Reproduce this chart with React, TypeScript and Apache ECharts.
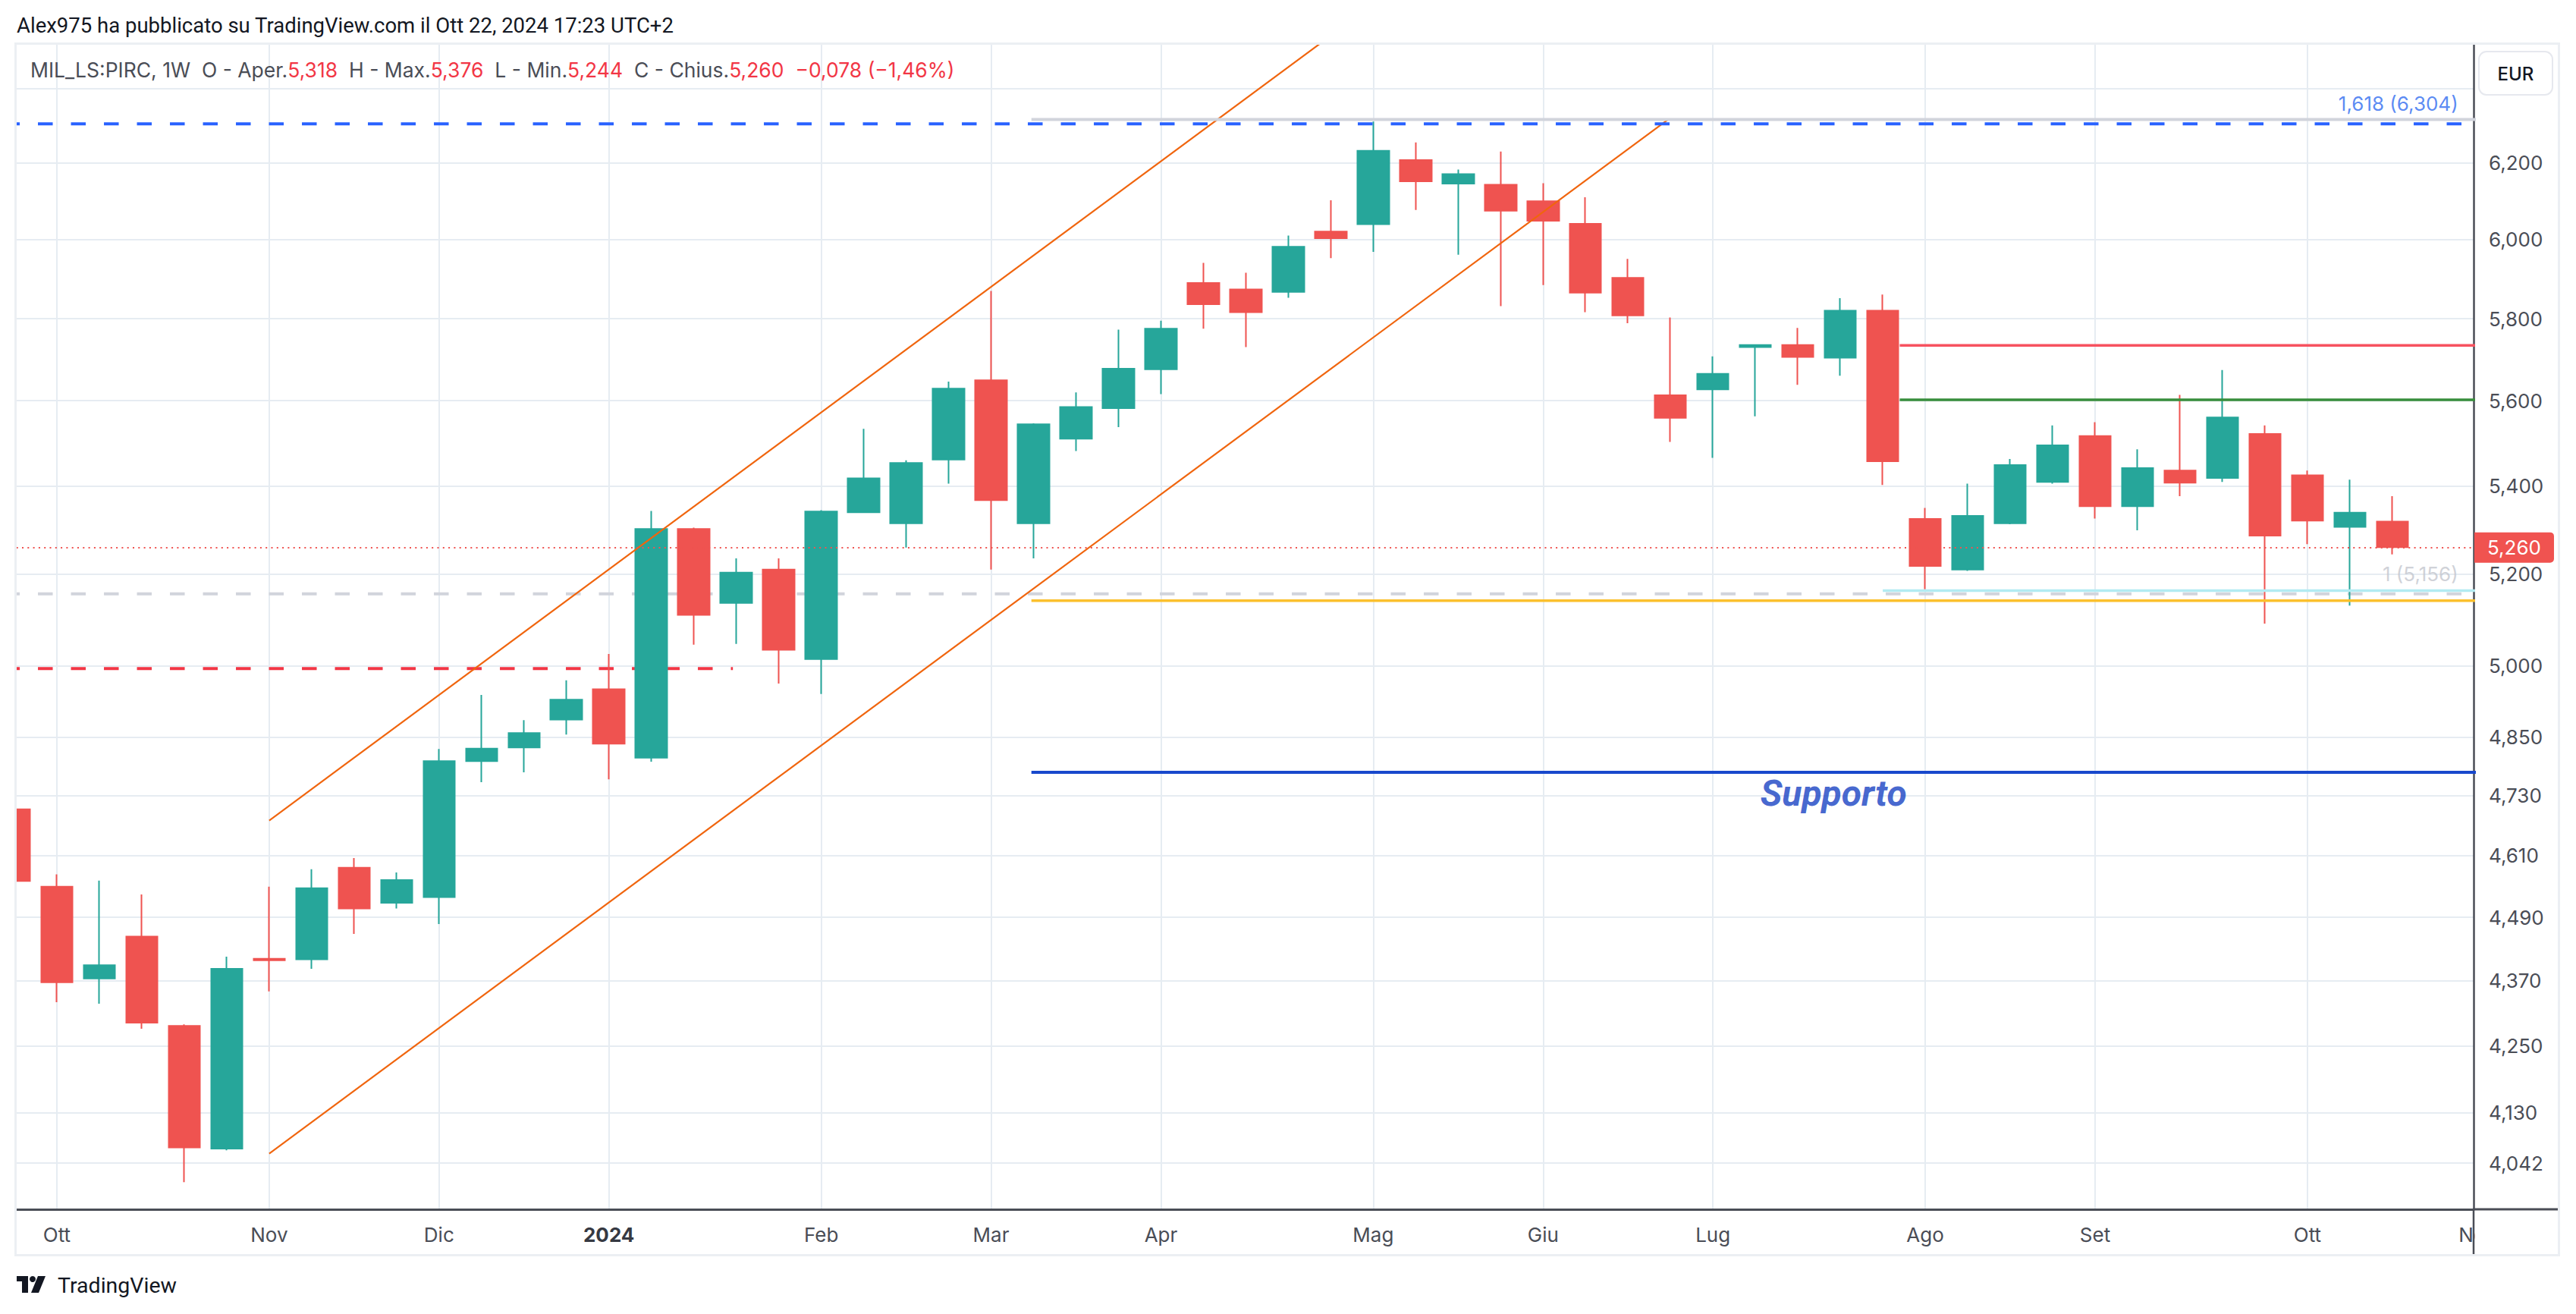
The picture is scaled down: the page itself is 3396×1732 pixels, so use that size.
import React, { useEffect, useRef } from 'react';
import * as echarts from 'echarts';

// ---------- DATA ----------
const weeks = [
  '2023-09-25', '2023-10-02', '2023-10-09', '2023-10-16', '2023-10-23', '2023-10-30',
  '2023-11-06', '2023-11-13', '2023-11-20', '2023-11-27', '2023-12-04', '2023-12-11',
  '2023-12-18', '2023-12-25', '2024-01-01', '2024-01-08', '2024-01-15', '2024-01-22',
  '2024-01-29', '2024-02-05', '2024-02-12', '2024-02-19', '2024-02-26', '2024-03-04',
  '2024-03-11', '2024-03-18', '2024-03-25', '2024-04-01', '2024-04-08', '2024-04-15',
  '2024-04-22', '2024-04-29', '2024-05-06', '2024-05-13', '2024-05-20', '2024-05-27',
  '2024-06-03', '2024-06-10', '2024-06-17', '2024-06-24', '2024-07-01', '2024-07-08',
  '2024-07-15', '2024-07-22', '2024-07-29', '2024-08-05', '2024-08-12', '2024-08-19',
  '2024-08-26', '2024-09-02', '2024-09-09', '2024-09-16', '2024-09-23', '2024-09-30',
  '2024-10-07', '2024-10-14', '2024-10-21',
];
const opens = [
  4.702, 4.549, 4.374, 4.453, 4.286, 4.067, 4.411, 4.410, 4.586, 4.518, 4.529, 4.800,
  4.828, 4.886, 4.950, 4.807, 5.301, 5.136, 5.210, 5.014, 5.339, 5.314, 5.461, 5.649,
  5.314, 5.510, 5.582, 5.676, 5.889, 5.873, 5.867, 6.020, 6.039, 6.207, 6.145, 6.142,
  6.099, 6.040, 5.902, 5.613, 5.627, 5.730, 5.735, 5.704, 5.820, 5.324, 5.210, 5.314,
  5.409, 5.516, 5.353, 5.435, 5.418, 5.521, 5.424, 5.306, 5.318,
];
const highs = [
  4.702, 4.573, 4.561, 4.534, 4.289, 4.415, 4.549, 4.583, 4.605, 4.577, 4.825, 4.938,
  4.885, 4.969, 5.025, 5.342, 5.304, 5.235, 5.235, 5.344, 5.533, 5.459, 5.646, 5.869,
  5.546, 5.620, 5.773, 5.795, 5.940, 5.915, 6.010, 6.101, 6.310, 6.254, 6.182, 6.230,
  6.146, 6.109, 5.950, 5.803, 5.707, 5.736, 5.777, 5.851, 5.860, 5.349, 5.405, 5.462,
  5.541, 5.549, 5.485, 5.614, 5.674, 5.541, 5.435, 5.414, 5.376,
];
const lows = [
  4.560, 4.330, 4.327, 4.281, 4.009, 4.064, 4.350, 4.392, 4.458, 4.507, 4.477, 4.757,
  4.777, 4.855, 4.763, 4.799, 5.045, 5.047, 4.962, 4.940, 5.338, 5.259, 5.405, 5.210,
  5.235, 5.481, 5.537, 5.616, 5.775, 5.730, 5.852, 5.952, 5.968, 6.076, 5.961, 5.831,
  5.884, 5.816, 5.789, 5.502, 5.465, 5.563, 5.638, 5.660, 5.402, 5.166, 5.207, 5.312,
  5.405, 5.325, 5.298, 5.376, 5.409, 5.091, 5.267, 5.130, 5.244,
];
const closes = [
  4.560, 4.367, 4.399, 4.292, 4.069, 4.392, 4.408, 4.546, 4.507, 4.562, 4.800, 4.826,
  4.858, 4.928, 4.836, 5.301, 5.110, 5.203, 5.034, 5.341, 5.417, 5.453, 5.629, 5.367,
  5.544, 5.585, 5.677, 5.775, 5.836, 5.816, 5.981, 6.003, 6.232, 6.151, 6.170, 6.074,
  6.048, 5.865, 5.808, 5.559, 5.665, 5.735, 5.706, 5.820, 5.457, 5.218, 5.331, 5.448,
  5.494, 5.353, 5.441, 5.407, 5.560, 5.286, 5.320, 5.338, 5.260,
];

// month tick marks (index into weeks) and their labels
const monthTickIdx = [1, 6, 10, 14, 19, 23, 27, 32, 36, 40, 45, 49, 54];
const monthTickLabels = ['Ott', 'Nov', 'Dic', '2024', 'Feb', 'Mar', 'Apr', 'Mag', 'Giu', 'Lug', 'Ago', 'Set', 'Ott'];
const nextMonthLabel = 'Nov';

// price scale ticks (log scale)
const priceGridTicks = [4.042, 4.13, 4.25, 4.37, 4.49, 4.61, 4.73, 4.85, 5.0, 5.2, 5.4, 5.6, 5.8, 6.0, 6.2, 6.4];
const priceLabelTicks = [4.042, 4.13, 4.25, 4.37, 4.49, 4.61, 4.73, 4.85, 5.0, 5.2, 5.4, 5.6, 5.8, 6.0, 6.2];

// drawings: [barIndex, price]
const channelLower = [[6, 4.0584], [38.96, 6.317]];
const channelUpper = [[6, 4.6797], [40, 7.387]];
const levelBlueDashed = 6.304;
const levelFib1618 = 6.316;
const levelRedDashed = 4.994;
const levelGrayDashed = 5.156;
const levelFib1 = 5.163;
const levelYellow = 5.141;
const levelSupport = 4.777;
const levelResistRed = 5.734;
const levelResistGreen = 5.602;
const redDashedEndIdx = 16.92;
const drawStartIdx = 23.95;
const recentStartIdx = 44.0;
const recentLinesStartIdx = 44.4;
const supportLabelPos = [42.84, 4.734];
const fib1LabelPos = [57.55, 5.2];
const fib1618LabelPos = [57.55, 6.359];

// ---------- HELPERS ----------
const L = Math.log;
const fmt = (p: number) => p.toFixed(3).replace('.', ',');
const FONT = 'Roboto, "Noto Sans", sans-serif';
const NUMFONT = 'Inter, Roboto, sans-serif';
const X_MIN = 0.048;
const X_MAX = 57.914;
const Y_MIN = 1.37695;
const Y_MAX = 1.87533;

const hSeg = (x0: number, x1: number, p: number) => [[x0, L(p)], [x1, L(p)]];
const lineSeries = (data: number[][], color: string, width: number, type: any, z: number) => ({
  type: 'line',
  data,
  symbol: 'none',
  showSymbol: false,
  silent: true,
  clip: true,
  z,
  lineStyle: { color, width, type },
});
const textSeries = (pos: number[], text: string, label: any) => ({
  type: 'scatter',
  silent: true,
  z: 6,
  symbolSize: 1,
  itemStyle: { color: 'rgba(0,0,0,0)' },
  data: [[pos[0], L(pos[1])]],
  label: { show: true, position: 'inside', formatter: text, ...label },
});

export default function App() {
  const ref = useRef<HTMLDivElement>(null);
  useEffect(() => {
    if (!ref.current) return;
    const chart = echarts.init(ref.current, undefined, { renderer: 'svg' });
    const last = closes.length - 1;
    const chg = closes[last] - closes[last - 1];
    const chgPct = (chg / closes[last - 1]) * 100;
    const sign = chg < 0 ? '\u2212' : '+';
    const candleData = weeks.map((_, i) => [i, L(opens[i]), L(closes[i]), L(lows[i]), L(highs[i])]);

    const legendText =
      '{g|MIL_LS:PIRC, 1W  O - Aper.}{r|' + fmt(opens[last]) + '}' +
      '{g|  H - Max.}{r|' + fmt(highs[last]) + '}' +
      '{g|  L - Min.}{r|' + fmt(lows[last]) + '}' +
      '{g|  C - Chius.}{r|' + fmt(closes[last]) + '}' +
      '{r|  ' + sign + fmt(Math.abs(chg)) + ' (' + sign + Math.abs(chgPct).toFixed(2).replace('.', ',') + '%)}';

    const option: any = {
      animation: false,
      backgroundColor: '#ffffff',
      grid: { left: 21.7, right: 135, top: 58, bottom: 138 },
      xAxis: {
        type: 'value',
        min: X_MIN,
        max: X_MAX,
        axisLine: { show: true, onZero: false, lineStyle: { color: '#4a4d56', width: 3 } },
        axisTick: { show: false, customValues: monthTickIdx },
        axisLabel: {
          customValues: monthTickIdx,
          margin: 20,
          fontSize: 26,
          fontFamily: NUMFONT,
          color: '#4a4d56',
          formatter: (v: number) => {
            const k = monthTickIdx.indexOf(Math.round(v));
            const t = k >= 0 ? monthTickLabels[k] : '';
            return t === '2024' ? '{b|2024}' : t;
          },
          rich: { b: { fontWeight: 'bold', fontSize: 26, fontFamily: NUMFONT, color: '#363942' } },
        },
        splitLine: { show: true, lineStyle: { color: '#e6ecf2', width: 2 } },
      },
      yAxis: {
        type: 'value',
        position: 'right',
        min: Y_MIN,
        max: Y_MAX,
        axisLine: { show: true, onZero: false, lineStyle: { color: '#4a4d56', width: 2.5 } },
        axisTick: { show: false, customValues: priceGridTicks.map(L) },
        axisLabel: {
          customValues: priceLabelTicks.map(L),
          margin: 20,
          fontSize: 26,
          fontFamily: NUMFONT,
          color: '#4a4d56',
          formatter: (v: number) => fmt(Math.exp(v)),
        },
        splitLine: { show: true, lineStyle: { color: '#e6ecf2', width: 2 } },
      },
      series: [
        // drawings under candles
        lineSeries(hSeg(-1, redDashedEndIdx, levelRedDashed), '#f23645', 4, [19.5, 24], 2),
        lineSeries(hSeg(-1, 60, levelGrayDashed), '#d1d4dc', 4, [19.5, 24], 2),
        {
          type: 'candlestick',
          z: 3,
          silent: true,
          data: candleData,
          encode: { x: 0, y: [1, 2, 3, 4] },
          barWidth: 42,
          clip: true,
          itemStyle: {
            color: '#26a69a',
            color0: '#ef5350',
            borderColor: '#26a69a',
            borderColor0: '#ef5350',
            borderWidth: 2,
          },
          markLine: {
            silent: true,
            symbol: ['none', 'none'],
            data: [{ yAxis: L(closes[last]) }],
            lineStyle: { color: '#ef5350', width: 2, type: [2, 5.3] },
            label: {
              show: true,
              position: 'end',
              distance: 1,
              formatter: fmt(closes[last]),
              color: '#ffffff',
              backgroundColor: '#f05350',
              padding: [7, 17, 7, 17],
              fontSize: 26,
              fontFamily: NUMFONT,
              borderRadius: [0, 5, 5, 0],
            },
          },
        },
        // drawings over candles
        lineSeries(channelUpper.map(([x, p]) => [x, L(p)]), '#f0650e', 2.2, 'solid', 4),
        lineSeries(channelLower.map(([x, p]) => [x, L(p)]), '#f0650e', 2.2, 'solid', 4),
        lineSeries(hSeg(drawStartIdx, 60, levelFib1618), '#d1d4dc', 4, 'solid', 4),
        lineSeries(hSeg(-1, 60, levelBlueDashed), '#2962ff', 4, [19.5, 24], 4),
        lineSeries(hSeg(recentStartIdx, 60, levelFib1), '#b2ebf2', 3.5, 'solid', 4),
        lineSeries(hSeg(drawStartIdx, 60, levelYellow), '#fbc02d', 3.5, 'solid', 4),
        lineSeries(hSeg(drawStartIdx, 60, levelSupport), '#1848cc', 4, 'solid', 4),
        lineSeries(hSeg(recentLinesStartIdx, 60, levelResistRed), '#f7525f', 3.5, 'solid', 4),
        lineSeries(hSeg(recentLinesStartIdx, 60, levelResistGreen), '#388e3c', 3.5, 'solid', 4),
        textSeries(supportLabelPos, 'Supporto', {
          fontSize: 48, fontWeight: 'bold', fontStyle: 'italic', color: '#1640c2', fontFamily: FONT,
          align: 'center', verticalAlign: 'middle',
        }),
        textSeries(fib1LabelPos, '1 (' + fmt(levelGrayDashed) + ')', {
          fontSize: 26, color: '#c3c6ce', fontFamily: NUMFONT, align: 'right', verticalAlign: 'middle',
        }),
        textSeries(fib1618LabelPos, '1,618 (' + fmt(levelBlueDashed) + ')', {
          fontSize: 26, color: '#2f6bf0', fontFamily: NUMFONT, align: 'right', verticalAlign: 'middle',
        }),
      ],
      graphic: [
        // hides the part of the first bar that lies left of the pane
        {
          type: 'rect', silent: true, z: 100,
          shape: { x: 0, y: 50, width: 20, height: 1560 },
          style: { fill: '#ffffff' },
        },
        {
          type: 'rect', silent: true, z: 101,
          shape: { x: 20.5, y: 57.5, width: 3353, height: 1597 },
          style: { fill: 'none', stroke: '#eceff3', lineWidth: 3 },
        },
        {
          type: 'text', silent: true, x: 22, y: 33,
          style: {
            text: 'Alex975 ha pubblicato su TradingView.com il Ott 22, 2024 17:23 UTC+2',
            fontSize: 27.5, fontFamily: FONT, fill: '#131722', verticalAlign: 'middle', align: 'left',
          },
        },
        {
          type: 'text', silent: true, x: 40, y: 92, z: 10,
          style: {
            text: legendText, verticalAlign: 'middle', align: 'left', fontSize: 26.5, fontFamily: NUMFONT,
            rich: {
              g: { fill: '#4a4d56', fontSize: 26.5, fontFamily: NUMFONT },
              r: { fill: '#f23645', fontSize: 26.5, fontFamily: NUMFONT },
            },
          },
        },
        // EUR button
        {
          type: 'rect', silent: true, z: 10,
          shape: { x: 3268, y: 68, width: 97, height: 57, r: 10 },
          style: { fill: '#ffffff', stroke: '#e6e8ee', lineWidth: 2 },
        },
        {
          type: 'text', silent: true, z: 11, x: 3316.5, y: 97,
          style: { text: 'EUR', fontSize: 24, fontFamily: NUMFONT, fontWeight: 500, fill: '#131722', align: 'center', verticalAlign: 'middle' },
        },
        // next month label, cut by the price scale
        {
          type: 'text', silent: true, z: 10, x: 19 + 58 * 55.98, y: 1627,
          style: { text: nextMonthLabel, fontSize: 26, fontFamily: NUMFONT, fill: '#4a4d56', align: 'center', verticalAlign: 'middle' },
        },
        {
          type: 'rect', silent: true, z: 11,
          shape: { x: 3262.5, y: 1597, width: 108, height: 56 },
          style: { fill: '#ffffff' },
        },
        // axis line extensions
        {
          type: 'line', silent: true, z: 12,
          shape: { x1: 3260, y1: 1594, x2: 3372, y2: 1594 },
          style: { stroke: '#4a4d56', lineWidth: 3 },
        },
        {
          type: 'line', silent: true, z: 12,
          shape: { x1: 3261, y1: 1594, x2: 3261, y2: 1655 },
          style: { stroke: '#4a4d56', lineWidth: 2.5 },
        },
        // TradingView logo
        {
          type: 'polygon', silent: true,
          shape: { points: [[22, 1682], [37, 1682], [37, 1704], [29, 1704], [29, 1689], [22, 1689]] },
          style: { fill: '#131722' },
        },
        {
          type: 'circle', silent: true,
          shape: { cx: 43, cy: 1686, r: 4 },
          style: { fill: '#131722' },
        },
        {
          type: 'polygon', silent: true,
          shape: { points: [[50, 1682], [60, 1682], [51, 1704], [41, 1704]] },
          style: { fill: '#131722' },
        },
        {
          type: 'text', silent: true, x: 76, y: 1694,
          style: { text: 'TradingView', fontSize: 28.5, fontFamily: FONT, fill: '#131722', verticalAlign: 'middle', align: 'left' },
        },
      ],
    };
    chart.setOption(option);
    return () => chart.dispose();
  }, []);
  return (
    <div
      ref={ref}
      style={{ position: 'fixed', left: 0, top: 0, width: 3396, height: 1732, background: '#ffffff' }}
    />
  );
}
